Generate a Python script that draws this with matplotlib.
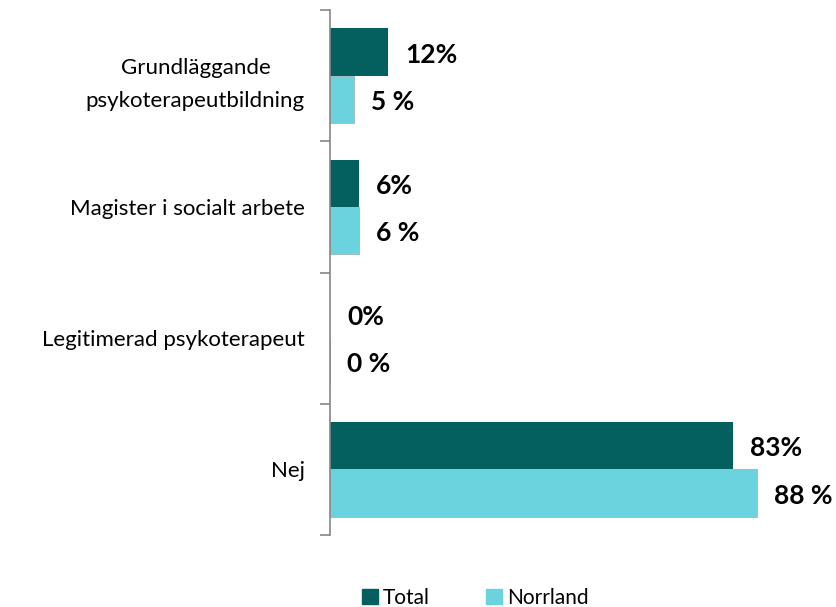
import numpy as np
import matplotlib.pyplot as plt
from matplotlib.patches import Patch

plt.rcParams['font.family'] = ['Lato', 'DejaVu Sans']

categories = ['Grundläggande\npsykoterapeutbildning', 'Magister i socialt arbete',
              'Legitimerad psykoterapeut', 'Nej']
total = [12, 6, 0, 83]
norrland = [5, 6, 0, 88]
total_labels = ['12%', '6%', '0%', '83%']
norrland_labels = ['5 %', '6 %', '0 %', '88 %']

c_total = '#04605F'
c_norr = '#6AD3DE'

fig = plt.figure(figsize=(8.37, 6.07), dpi=100)
ax = fig.add_axes([330 / 837, 72 / 607, 485 / 837, 525 / 607])

y = np.arange(len(categories))
h = 0.36
ax.barh(y - h / 2, total, height=h, color=c_total)
ax.barh(y + h / 2, norrland, height=h, color=c_norr, edgecolor='#9ab8bb', linewidth=0.6)

for i in range(len(categories)):
    ax.text(total[i] + 3.5, y[i] - h / 2 + 0.02, total_labels[i], va='center', ha='left',
            fontsize=19, fontweight='bold')
    ax.text(norrland[i] + 3.5, y[i] + h / 2 + 0.02, norrland_labels[i], va='center', ha='left',
            fontsize=19, fontweight='bold')

ax.set_xlim(0, 100)
ax.set_ylim(3.5, -0.5)
ax.set_yticks(y)
ax.set_yticklabels(categories, fontsize=16, linespacing=1.85, multialignment='center')
ax.tick_params(axis='y', which='major', length=0, pad=18)
ax.set_yticks(np.arange(-0.5, 4, 1), minor=True)
ax.tick_params(axis='y', which='minor', length=7, color='#868686', width=1.2)
ax.set_xticks([])
for s in ['top', 'right', 'bottom']:
    ax.spines[s].set_visible(False)
ax.spines['left'].set_color('#868686')
ax.spines['left'].set_linewidth(1.2)

handles = [Patch(color=c_total), Patch(color=c_norr)]
fig.legend(handles, ['Total', 'Norrland'], loc='lower center', bbox_to_anchor=(0.568, -0.032),
           ncol=2, frameon=False, fontsize=15, handlelength=0.75, handleheight=0.75,
           handletextpad=0.25, columnspacing=2.7)

fig.savefig('out.png', dpi=100)
